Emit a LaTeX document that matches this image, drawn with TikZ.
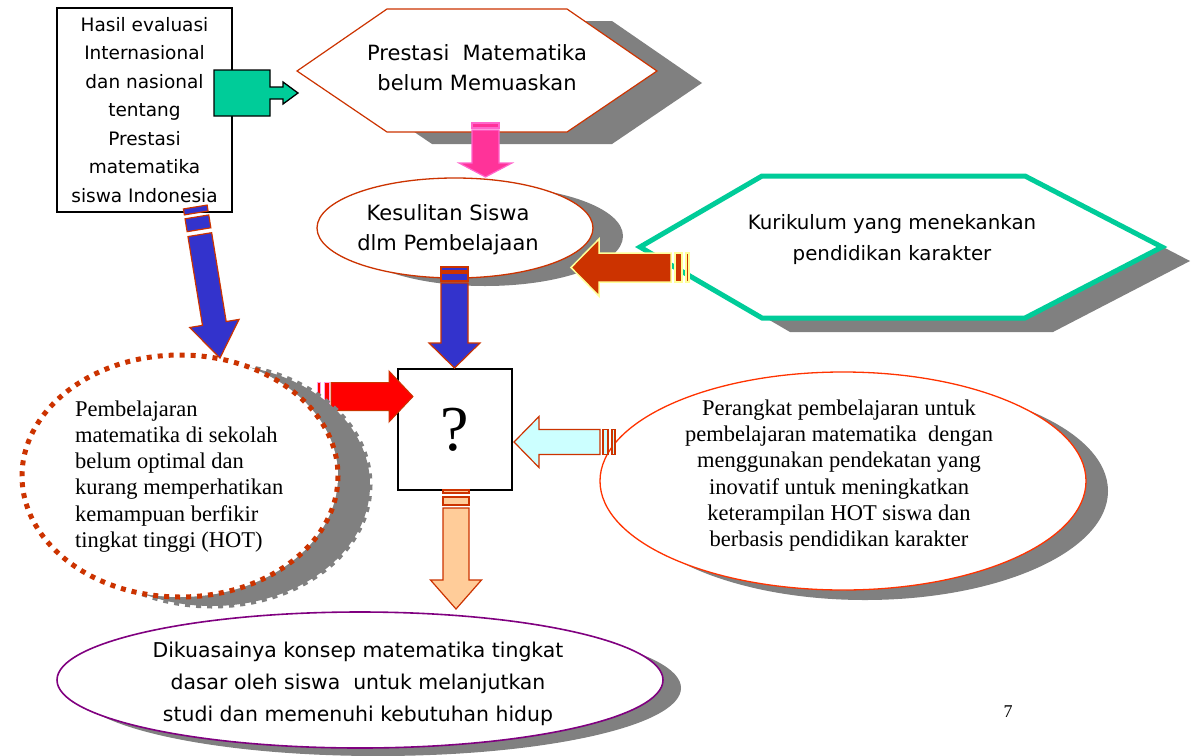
\documentclass[tikz,border=0pt]{standalone}
\usepackage{fontspec}
\setmainfont{Liberation Serif}
\newfontfamily\comic{DejaVu Sans}
\usetikzlibrary{shapes.geometric}
\definecolor{hexred}{HTML}{CC3300}
\definecolor{shadowgray}{HTML}{808080}
\definecolor{greenfill}{HTML}{00CC99}
\definecolor{pinkfill}{HTML}{FF3399}
\definecolor{pinkedge}{HTML}{FF66CC}
\definecolor{bluefill}{HTML}{3333CC}
\definecolor{cyanfill}{HTML}{CCFFFF}
\definecolor{orangefill}{HTML}{FFCC99}
\definecolor{purpleedge}{HTML}{800080}
\definecolor{yellowedge}{HTML}{FFFF99}
\definecolor{ellred}{HTML}{FF3300}
\newcommand\barrowpath[4]{(0,0) -- (-#2,-#3) -- (-#1,-#3) -- (-#1,-#4) -- (#1,-#4) -- (#1,-#3) -- (#2,-#3) -- cycle}
\newcommand\bstripe[3]{(-#1,-#2) rectangle (#1,-#3)}
\tikzset{
  shadowfill/.style={fill=shadowgray, draw=none},
  comictext/.style={font=\comic\fontsize{21}{30}\selectfont, align=center, inner sep=0pt},
  seriftext/.style={font=\fontsize{22.5}{26.2}\selectfont, inner sep=0pt},
  pinkarr/.style={fill=pinkfill, draw=pinkedge, line width=1.2pt},
  bluearr/.style={fill=bluefill, draw=hexred, line width=1.2pt},
  orangearr/.style={fill=orangefill, draw=hexred, line width=1.2pt},
  redarr/.style={fill=red, draw=hexred, line width=1pt},
  cyanarr/.style={fill=cyanfill, draw=hexred, line width=1.2pt},
  brownarr/.style={fill=hexred, draw=yellowedge, line width=1.5pt},
}
\begin{document}
\begin{tikzpicture}[x=1pt,y=-1pt]
\useasboundingbox (0,0) rectangle (1199,755);
\fill[white] (0,0) rectangle (1199,755);

% ---- hexagon Prestasi
\fill[shadowgray] (342,83) -- (432,21) -- (612,21) -- (702,83) -- (612,144) -- (432,144) -- cycle;
\draw[hexred, line width=1.2pt, fill=white] (297,71) -- (387,9) -- (567,9) -- (657,71) -- (567,132) -- (387,132) -- cycle;
\node[comictext] (prestasi) at (477,68) {Prestasi\ \ Matematika\\belum Memuaskan};

% ---- text box
\node[draw=black, line width=1.3pt, fill=white, minimum width=175pt, minimum height=204pt, inner sep=0pt,
      align=center, font=\comic\fontsize{18.5}{28.5}\selectfont] (hasil) at (144.5,110)
  {Hasil evaluasi\\Internasional\\dan nasional\\tentang\\Prestasi\\matematika\\siswa Indonesia};

% ---- green arrow
\draw[black, line width=1.3pt, fill=greenfill] (214,70) -- (270,70) -- (270,87) -- (283,87) -- (283,82) -- (298,93) -- (283,104) -- (283,99) -- (270,99) -- (270,116) -- (214,116) -- cycle;

% ---- ellipse Kesulitan
\fill[shadowgray] (485,236) ellipse [x radius=138, y radius=50];
\draw[hexred, line width=1.3pt, fill=white] (455,228) ellipse [x radius=138, y radius=50];
\node[comictext] (kesulitan) at (448,230) {Kesulitan Siswa\\dlm Pembelajaan};

% ---- hexagon Kurikulum
\fill[shadowgray] (668,261) -- (790,190) -- (1053,190) -- (1190,261) -- (1053,332) -- (790,332) -- cycle;
\draw[greenfill, line width=5pt, fill=white, line join=miter] (640,247) -- (762,176) -- (1025,176) -- (1162,247) -- (1025,318) -- (762,318) -- cycle;
\node[comictext, font=\comic\fontsize{19.8}{31}\selectfont] (kurikulum) at (892,240) {Kurikulum yang menekankan\\pendidikan karakter};

% ---- question box
\node[draw=black, line width=1.3pt, fill=white, minimum width=114pt, minimum height=121pt, inner sep=0pt,
      font=\fontsize{64}{70}\selectfont] (q) at (455,429.5) {?};

% ---- red arrow into ?
\begin{scope}[shift={(413,396.5)}, rotate=90]
\draw[redarr] \barrowpath{14}{25.5}{24}{82};
\draw[redarr, draw=pinkedge!60] \bstripe{14}{84}{89};
\draw[redarr, draw=pinkedge!60] \bstripe{14}{93}{96};
\end{scope}

% ---- dotted ellipse
\fill[shadowgray] (212,485) ellipse [x radius=158, y radius=121];
\draw[shadowgray, line width=5pt, dash pattern=on 5pt off 6pt] (212,485) ellipse [x radius=158, y radius=121];
\draw[hexred, line width=5pt, dash pattern=on 5pt off 6pt, fill=white] (180,476) ellipse [x radius=158, y radius=121];
\node[seriftext, align=left, anchor=west] (pembelajaran) at (75,476.5)
  {Pembelajaran\\matematika di sekolah\\belum optimal dan\\kurang memperhatikan\\kemampuan berfikir\\tingkat tinggi (HOT)};

% ---- right ellipse
\fill[shadowgray] (865,491) ellipse [x radius=243, y radius=109];
\draw[ellred, line width=1.3pt, fill=white] (843,481) ellipse [x radius=243, y radius=109];
\node[seriftext, align=center] (perangkat) at (839,475.5)
  {Perangkat pembelajaran untuk\\pembelajaran matematika\ \ dengan\\menggunakan pendekatan yang\\inovatif untuk meningkatkan\\keterampilan HOT siswa dan\\berbasis pendidikan karakter};

% ---- bottom ellipse
\fill[shadowgray] (378,688) ellipse [x radius=303, y radius=68];
\draw[purpleedge, line width=1.6pt, fill=white] (360,680) ellipse [x radius=303, y radius=68];
\node[comictext, font=\comic\fontsize{20.4}{32}\selectfont] (dikuasai) at (358,684)
  {Dikuasainya konsep matematika tingkat\\dasar oleh siswa\ \ untuk melanjutkan\\studi dan memenuhi kebutuhan hidup};

% ---- page number
\node[font=\fontsize{18}{20}\selectfont, inner sep=0pt] (pagenum) at (1008,712) {7};

% ---- pink arrow
\begin{scope}[shift={(485.5,177)}]
\draw[pinkarr] \barrowpath{13.5}{26.5}{14}{47};
\draw[pinkarr] \bstripe{13.5}{49}{54};
\end{scope}

% ---- blue down arrow
\begin{scope}[shift={(454.5,368)}]
\draw[bluearr] \barrowpath{13.5}{25.5}{25}{85};
\draw[bluearr] \bstripe{13.5}{87}{95};
\draw[bluearr] \bstripe{13.5}{97}{101};
\end{scope}

% ---- blue slanted arrow
\begin{scope}[shift={(220,358)}, rotate=9.3]
\draw[bluearr] \barrowpath{12}{25}{35}{125};
\draw[bluearr] \bstripe{12}{130}{143};
\draw[bluearr] \bstripe{12}{147}{153};
\end{scope}

% ---- orange arrow
\begin{scope}[shift={(456,609)}]
\draw[orangearr] \barrowpath{13}{25.5}{29}{101};
\draw[orangearr] \bstripe{13}{104}{112};
\draw[orangearr] \bstripe{13}{116}{119};
\end{scope}

% ---- cyan arrow
\begin{scope}[shift={(514,442)}, rotate=-90]
\draw[cyanarr] \barrowpath{12.5}{25.5}{25}{86};
\draw[cyanarr] \bstripe{12.5}{89}{94};
\draw[cyanarr] \bstripe{12.5}{98}{101};
\end{scope}

% ---- brown arrow
\begin{scope}[shift={(571,267.5)}, rotate=-90]
\draw[brownarr] \barrowpath{14.5}{28.5}{28}{100};
\draw[brownarr] \bstripe{14.5}{104}{111};
\draw[brownarr] \bstripe{14.5}{115}{118};
\end{scope}
\end{tikzpicture}
\end{document}
